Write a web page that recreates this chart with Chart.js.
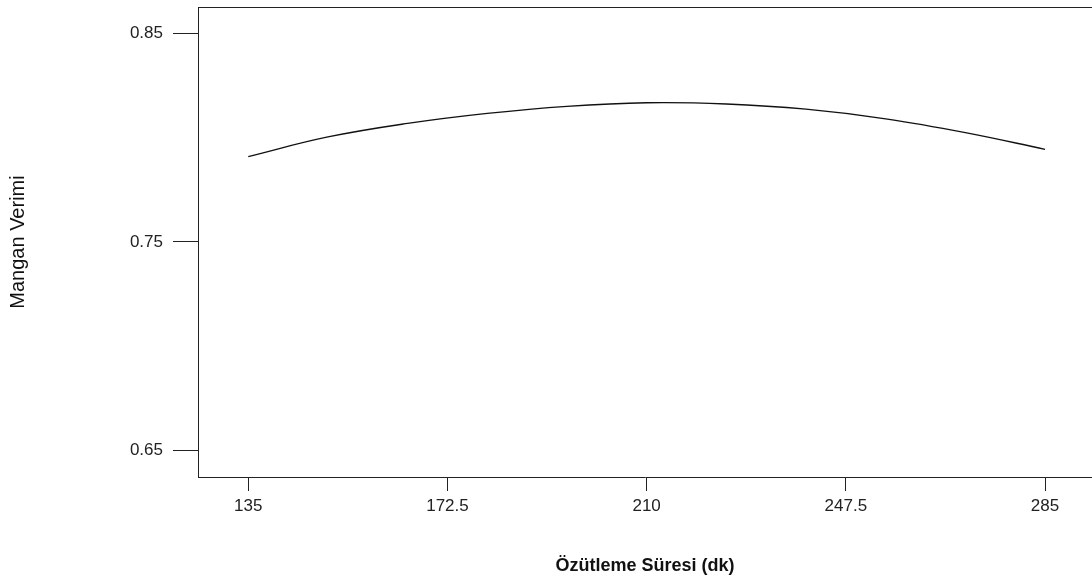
<!DOCTYPE html>
<html>
<head>
<meta charset="utf-8">
<script src="https://cdn.jsdelivr.net/npm/chart.js@4.4.1/dist/chart.umd.min.js"></script>
<style>
  html, body { margin: 0; padding: 0; background: #fff; }
  #wrap { width: 1092px; height: 579px; position: relative; }
</style>
</head>
<body>
<div id="wrap"><canvas id="myChart"></canvas></div>
<script>
// values
const extractionTimes = [135, 150, 165, 180, 195, 210, 225, 240, 255, 270, 285];
const manganYield = [0.7909, 0.8003, 0.8068, 0.8116, 0.8150, 0.8167, 0.8161, 0.8136, 0.8090, 0.8024, 0.7944];
const xTickValues = [135, 172.5, 210, 247.5, 285];
const yTickValues = [0.65, 0.75, 0.85];

const axisColor = '#222';
const fontFamily = "'Liberation Sans', Arial, sans-serif";

// the frame has a top line too
const topLine = {
    id: 'topLine',
    afterDraw(chart) {
        const a = chart.chartArea;
        const c = chart.ctx;
        c.save();
        c.strokeStyle = axisColor;
        c.lineWidth = 1;
        c.beginPath();
        c.moveTo(a.left, a.top + 0.5);
        c.lineTo(a.right, a.top + 0.5);
        c.stroke();
        c.restore();
    }
};

const ctx = document.getElementById('myChart');

new Chart(ctx, {
    type: 'line',
    data: {
        datasets: [
        {
            label: 'Mangan Verimi',
            data: extractionTimes.map((t, i) => ({ x: t, y: manganYield[i] })),
            borderColor: '#111',
            borderWidth: 1.3,
            pointRadius: 0,
            tension: 0.4,
            fill: false
        }
        ]
    },
    options: {
        responsive: true,
        maintainAspectRatio: false,
        animation: false,
        layout: { padding: { top: 7, right: 0, bottom: 0, left: 0 } },
        plugins: {
            legend: { display: false },
            tooltip: { enabled: false }
        },
        scales: {
            x: {
                type: 'linear',
                min: 125.54,
                max: 293.84,
                afterBuildTicks: s => { s.ticks = xTickValues.map(v => ({ value: v })); },
                afterFit: s => { s.height = 102; s.paddingLeft = 0; s.paddingRight = 0; },
                grid: { drawOnChartArea: false, drawTicks: true, tickLength: 14, color: axisColor },
                border: { display: true, color: axisColor, width: 1 },
                ticks: {
                    color: '#222',
                    padding: 5,
                    maxRotation: 0,
                    font: { family: fontFamily, size: 17 },
                    callback: v => String(v)
                },
                title: {
                    display: true,
                    text: 'Özütleme Süresi (dk)',
                    color: '#111',
                    font: { family: fontFamily, size: 18, weight: 'bold' },
                    padding: { top: 0, bottom: 2 }
                }
            },
            y: {
                min: 0.6373,
                max: 0.8626,
                afterBuildTicks: s => { s.ticks = yTickValues.map(v => ({ value: v })); },
                afterFit: s => { s.width = 198; s.paddingTop = 0; s.paddingBottom = 0; },
                grid: { drawOnChartArea: false, drawTicks: true, tickLength: 25, color: axisColor },
                border: { display: true, color: axisColor, width: 1 },
                ticks: {
                    color: '#222',
                    padding: 10,
                    font: { family: fontFamily, size: 17 },
                    callback: v => Number(v).toFixed(2)
                },
                title: {
                    display: true,
                    text: 'Mangan Verimi',
                    color: '#111',
                    font: { family: fontFamily, size: 20 },
                    padding: { top: 6, bottom: 0 }
                }
            }
        }
    },
    plugins: [topLine]
});
</script>
</body>
</html>
